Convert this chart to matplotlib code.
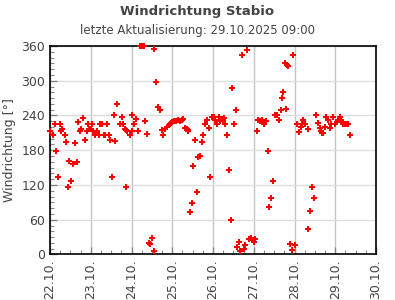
import datetime as dt

import matplotlib
matplotlib.use("Agg")
import matplotlib.pyplot as plt
import matplotlib.dates as mdates
from matplotlib.ticker import MultipleLocator

# Messzeitpunkte in Tagen ab 22.10.2025 00:00, Windrichtung in Grad
tage = [
    0.00, 0.07, 0.115, 0.15, 0.19, 0.245, 0.26, 0.295, 0.36, 0.39,
    0.435, 0.475, 0.51, 0.555, 0.605, 0.655, 0.68, 0.73, 0.77, 0.80,
    0.85, 0.90, 0.925, 0.965, 1.00, 1.03, 1.055, 1.105, 1.15, 1.195,
    1.22, 1.27, 1.32, 1.345, 1.39, 1.445, 1.47, 1.515, 1.565, 1.59,
    1.655, 1.715, 1.755, 1.78, 1.83, 1.86, 1.875, 1.90, 1.96, 2.01,
    2.02, 2.07, 2.12, 2.15, 2.20, 2.25, 2.30, 2.32, 2.37, 2.43,
    2.445, 2.50, 2.54, 2.56, 2.61, 2.66, 2.69, 2.74, 2.785, 2.83,
    2.875, 2.91, 2.94, 2.97, 3.00, 3.04, 3.07, 3.10, 3.15, 3.19,
    3.23, 3.26, 3.31, 3.35, 3.38, 3.39, 3.44, 3.49, 3.51, 3.56,
    3.61, 3.64, 3.67, 3.73, 3.75, 3.80, 3.85, 3.90, 3.93, 3.97,
    4.02, 4.05, 4.10, 4.15, 4.18, 4.21, 4.25, 4.28, 4.30, 4.34,
    4.39, 4.44, 4.47, 4.52, 4.56, 4.59, 4.64, 4.67, 4.71, 4.75,
    4.79, 4.84, 4.885, 4.93, 4.97, 5.00, 5.02, 5.07, 5.11, 5.16,
    5.20, 5.24, 5.26, 5.30, 5.35, 5.385, 5.43, 5.48, 5.53, 5.56,
    5.61, 5.66, 5.69, 5.73, 5.76, 5.80, 5.81, 5.85, 5.90, 5.93,
    5.975, 6.02, 6.07, 6.10, 6.15, 6.18, 6.22, 6.26, 6.32, 6.34,
    6.385, 6.43, 6.48, 6.53, 6.58, 6.63, 6.66, 6.68, 6.70, 6.75,
    6.78, 6.83, 6.88, 6.90, 6.95, 7.00, 7.05, 7.07, 7.12, 7.15,
    7.20, 7.24, 7.29, 7.32, 7.37,
]
richtung = [
    213, 206, 225, 179, 134, 225, 213, 217, 206, 194,
    117, 162, 127, 156, 193, 159, 229, 213, 217, 236,
    198, 213, 225, 217, 216, 225, 213, 206, 213, 206,
    225, 225, 206, 206, 225, 206, 198, 134, 241, 196,
    260, 225, 238, 225, 217, 215, 117, 213, 207, 213,
    240, 225, 234, 213, 360, 360, 360, 231, 208, 20,
    18, 29, 6, 354, 297, 255, 250, 215, 207, 217,
    220, 223, 226, 227, 228, 230, 230, 231, 232, 231,
    232, 234, 219, 217, 215, 213, 73, 89, 153, 198,
    108, 168, 170, 194, 207, 226, 232, 219, 134, 237,
    237, 232, 226, 238, 231, 234, 232, 236, 226, 207,
    146, 59, 288, 226, 250, 13, 21, 6, 345, 9,
    16, 353, 27, 29, 25, 21, 27, 213, 232, 231,
    232, 229, 226, 231, 179, 82, 97, 127, 240, 240,
    232, 250, 271, 281, 330, 252, 328, 326, 18, 7,
    345, 16, 226, 212, 220, 226, 232, 226, 217, 44,
    75, 117, 97, 240, 227, 219, 213, 210, 210, 220,
    237, 232, 219, 226, 237, 226, 229, 232, 237, 232,
    226, 226, 226, 226, 207,
]

start = dt.datetime(2025, 10, 22)
ende = dt.datetime(2025, 10, 30)
zeiten = [start + dt.timedelta(days=t) for t in tage]

GREY = "#444444"

fig = plt.figure(figsize=(3.95, 3.0), dpi=100)
ax = fig.add_axes([0.1266, 0.1517, 0.8253, 0.695])

ax.plot(zeiten, richtung, linestyle="none", marker="P", markersize=5,
        color="#ff0000", markeredgewidth=0, clip_on=False, zorder=3)

ax.set_xlim(start, ende)
ax.set_ylim(0, 360)

ax.xaxis.set_major_locator(mdates.DayLocator())
ax.xaxis.set_minor_locator(mdates.HourLocator(byhour=[6, 12, 18]))
ax.xaxis.set_major_formatter(mdates.DateFormatter("%d.%m."))
ax.yaxis.set_major_locator(MultipleLocator(60))
ax.yaxis.set_minor_locator(MultipleLocator(10))

ax.grid(axis="x", which="major", color="#c4c4c4", linewidth=1.0)
ax.grid(axis="y", which="major", color="#dedede", linewidth=1.0)
ax.set_axisbelow(True)

ax.tick_params(which="both", direction="in", color="#888888",
               labelcolor=GREY, labelsize=9, top=False, right=False)
ax.tick_params(which="major", length=5, width=1)
ax.tick_params(which="minor", length=3, width=0.8)
for lbl in ax.get_xticklabels():
    lbl.set_rotation(90)

for s in ax.spines.values():
    s.set_linewidth(1.2)
    s.set_color("black")

ax.set_ylabel("Windrichtung [°]", color=GREY, fontsize=9, labelpad=4)

fig.text(0.5, 0.963, "Windrichtung Stabio", ha="center", va="center",
         fontsize=9.5, fontweight="bold", color=GREY)
fig.text(0.5, 0.897, "letzte Aktualisierung: 29.10.2025 09:00", ha="center",
         va="center", fontsize=8.5, color=GREY)

fig.savefig("out.png", dpi=100)
